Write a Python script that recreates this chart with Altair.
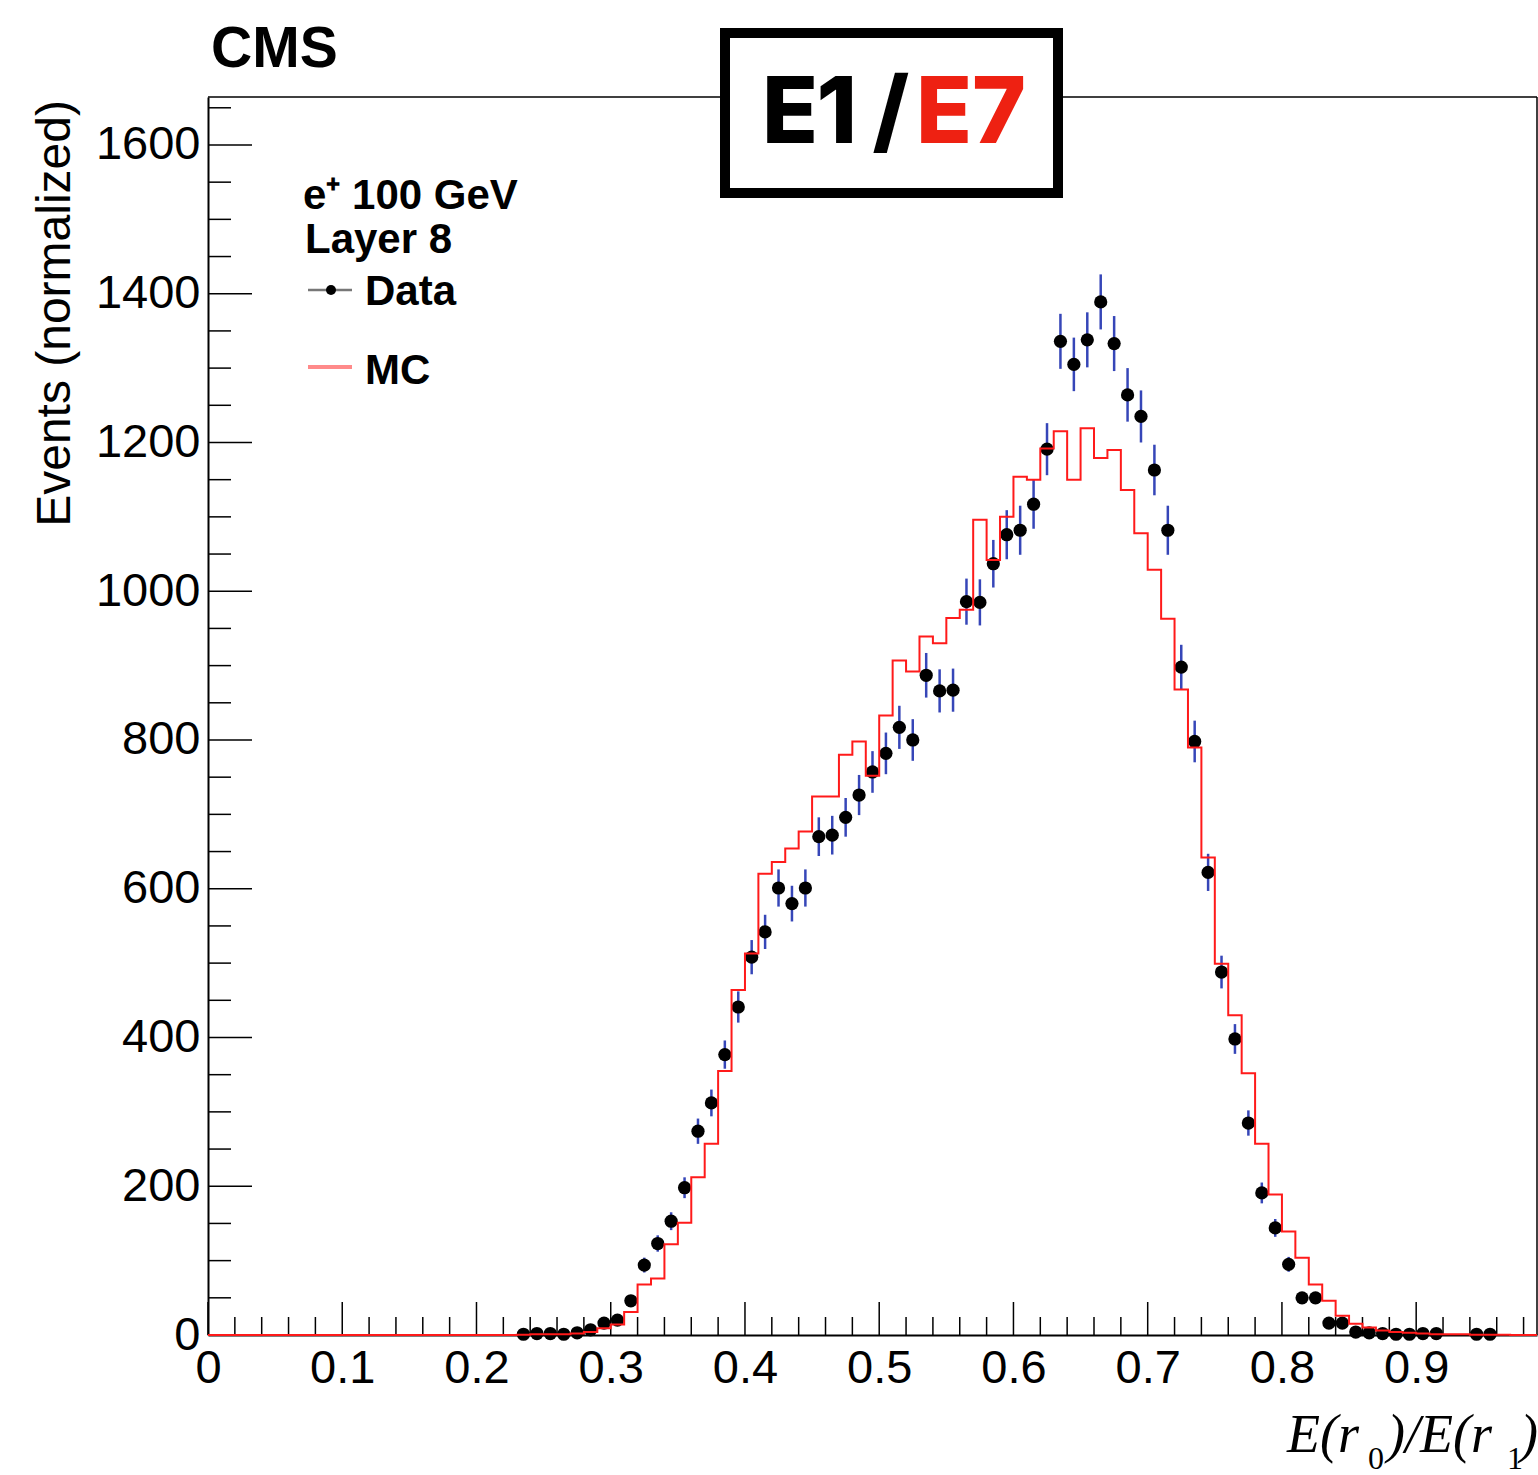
import altair as alt
import pandas as pd

# ---------------- data ----------------
# MC histogram: bins of width 0.01 starting at 0.00 (99 bins, 0.00 .. 0.99)
mc_values = [0, 0, 0, 0, 0, 0, 0, 0, 0, 0,
             0, 0, 0, 0, 0, 0, 0, 0, 0, 0,
             0, 0, 0, 0.5, 1, 1, 1, 2, 4, 9,
             14, 31, 68, 76, 122, 151, 212, 257, 355, 464,
             513, 620, 636, 654, 677, 724, 724, 780, 798, 752,
             833, 907, 892, 939, 930, 964, 975, 1096, 1042, 1100,
             1154, 1150, 1192, 1215, 1150, 1219, 1179, 1190, 1136, 1078,
             1029, 963, 868, 790, 642, 499, 430, 352, 257, 189,
             139, 104, 68, 46, 26, 15, 10, 6, 4, 3,
             2, 1, 1, 1, 0.5, 0.5, 0.5, 0, 0]

# Data points: bin centres, values and error bar half-lengths
data_centers = [0.235, 0.245, 0.255, 0.265, 0.275, 0.285, 0.295, 0.305, 0.315, 0.325,
                0.335, 0.345, 0.355, 0.365, 0.375, 0.385, 0.395, 0.405, 0.415, 0.425,
                0.435, 0.445, 0.455, 0.465, 0.475, 0.485, 0.495, 0.505, 0.515, 0.525,
                0.535, 0.545, 0.555, 0.565, 0.575, 0.585, 0.595, 0.605, 0.615, 0.625,
                0.635, 0.645, 0.655, 0.665, 0.675, 0.685, 0.695, 0.705, 0.715, 0.725,
                0.735, 0.745, 0.755, 0.765, 0.775, 0.785, 0.795, 0.805, 0.815, 0.825,
                0.835, 0.845, 0.855, 0.865, 0.875, 0.885, 0.895, 0.905, 0.915,
                0.945, 0.955]
data_values = [1, 2, 2, 1, 3, 7, 16, 20, 46, 94,
               123, 153, 198, 274, 312, 377, 441, 508, 542, 601,
               580, 601, 670, 672, 696, 726, 757, 782, 817, 800,
               887, 866, 867, 986, 985, 1037, 1076, 1082, 1117, 1191,
               1336, 1305, 1338, 1389, 1333, 1264, 1235, 1163, 1082, 898,
               798, 622, 488, 398, 285, 191, 144, 95, 50, 50,
               16, 16, 4, 3, 2, 1, 1, 2, 2,
               1, 1]
data_errors = [1, 1.4, 1.4, 1, 1.7, 2.6, 4, 4.5, 7, 10,
               11, 12, 14, 17, 18, 19, 21, 23, 23, 25,
               24, 25, 26, 26, 26, 27, 28, 28, 29, 28,
               30, 29, 29, 31, 31, 32, 33, 33, 33, 35,
               37, 36, 37, 37, 37, 36, 35, 34, 33, 30,
               28, 25, 22, 20, 17, 14, 12, 10, 7, 7,
               4, 4, 2, 2, 1.4, 1, 1, 1.4, 1.4,
               1, 1]

x_tick_labels = [0.0, 0.1, 0.2, 0.3, 0.4, 0.5, 0.6, 0.7, 0.8, 0.9]
y_tick_labels = [0, 200, 400, 600, 800, 1000, 1200, 1400, 1600]

# ---------------- layout ----------------
W, H = 1329, 1238
XMAX, YMAX = 0.99, 1664.5
BIN_W = 0.01

xs = alt.Scale(domain=[0, XMAX], nice=False, zero=False)
ys = alt.Scale(domain=[0, YMAX], nice=False, zero=False)

edges = [round(i * BIN_W, 2) for i in range(len(mc_values) + 1)]
mc_df = pd.DataFrame({"x": edges, "v": mc_values + [mc_values[-1]]})

pts_df = pd.DataFrame({"x": data_centers, "v": data_values, "e": data_errors})
pts_df["lo"] = pts_df["v"] - pts_df["e"]
pts_df["hi"] = pts_df["v"] + pts_df["e"]

# axis tick positions (inward ROOT-style ticks drawn as rules)
x_major = x_tick_labels
x_minor = [round(i * 0.02, 2) for i in range(1, 50) if i % 5 != 0]
y_major = y_tick_labels
y_minor = [i * 50 for i in range(1, 34) if i % 4 != 0]

FONT = "Liberation Sans"

xaxis = alt.Axis(values=x_tick_labels, ticks=False, grid=False, title=None,
                 labelExpr="datum.value == 0 ? '0' : format(datum.value, '.1f')",
                 labelFont=FONT, labelFontSize=47, labelColor="black",
                 labelPadding=10, labelFlush=False, labelOverlap=False,
                 domainColor="black", domainWidth=2)
yaxis = alt.Axis(values=y_tick_labels, ticks=False, grid=False, title=None,
                 format="d", labelFont=FONT, labelFontSize=47, labelColor="black",
                 labelPadding=8, labelFlush=False, labelOverlap=False,
                 domainColor="black", domainWidth=2)


def X(field):
    return alt.X(field, type="quantitative", scale=xs, axis=xaxis)


def Y(field):
    return alt.Y(field, type="quantitative", scale=ys, axis=yaxis)


errbars = alt.Chart(pts_df).mark_rule(color="#3646b8", strokeWidth=2.5).encode(
    x=X("x"), y=Y("lo"), y2="hi")
dots = alt.Chart(pts_df).mark_circle(size=175, color="black", opacity=1).encode(
    x=X("x"), y=Y("v"))
mc = alt.Chart(mc_df).mark_line(interpolate="step-after", color="#ff1a1a",
                                strokeWidth=2).encode(x=X("x"), y=Y("v"))


def xticks(vals, length):
    return alt.Chart(pd.DataFrame({"t": vals})).mark_rule(
        color="black", strokeWidth=1.5).encode(
        x=X("t"), y=alt.value(H), y2=alt.value(H - length))


def yticks(vals, length):
    return alt.Chart(pd.DataFrame({"t": vals})).mark_rule(
        color="black", strokeWidth=1.5).encode(
        y=Y("t"), x=alt.value(0), x2=alt.value(length))


one = pd.DataFrame({"a": [0]})


def txt(text, x, y, size, weight="normal", font=FONT, color="black",
        align="left", style="normal", angle=0):
    kw = dict(text=text, font=font, fontSize=size, fontWeight=weight,
              color=color, align=align, baseline="alphabetic", fontStyle=style)
    if angle:
        kw["angle"] = angle
    return alt.Chart(one).mark_text(**kw).encode(x=alt.value(x), y=alt.value(y))


def seg(x1, x2, y1, y2, color, width):
    return alt.Chart(one).mark_rule(color=color, strokeWidth=width).encode(
        x=alt.value(x1), x2=alt.value(x2), y=alt.value(y1), y2=alt.value(y2))


frame_top = seg(0, W, 0, 0, "black", 1.5)
frame_right = seg(W, W, 0, H, "black", 1.5)

# legend / labels
legend = [
    txt("CMS", 3, -30, 57, "bold"),
    txt("e\u207a 100 GeV", 95, 112, 42, "bold"),
    txt("Layer 8", 97, 156, 42, "bold"),
    seg(100, 144, 193, 193, "#777777", 2.5),
    alt.Chart(one).mark_circle(size=100, color="black", opacity=1).encode(
        x=alt.value(123), y=alt.value(193)),
    txt("Data", 157, 208, 42, "bold"),
    seg(100, 144, 270, 270, "#ff8a8a", 4),
    txt("MC", 157, 287, 42, "bold"),
]

# E1/E7 box
box = alt.Chart(one).mark_rect(fill="white", stroke="black", strokeWidth=10).encode(
    x=alt.value(517), x2=alt.value(850), y=alt.value(-64), y2=alt.value(96))
box_text = [
    txt("E", 554, 46, 92, 800, font="Inter"),
    txt("1", 649, 46, 92, 800, font="Inter", align="right"),
    txt("/", 683, 46, 92, 800, font="Inter", align="center"),
    txt("E7", 708, 46, 92, 800, font="Inter", color="#ee2112"),
]

# axis titles
ytitle = txt("Events (normalized)", -138, 3, 48, align="right", angle=270)
SERIF = "Liberation Serif"
xtitle = [
    txt("E(r", 1079, 1355, 54, font=SERIF, style="italic"),
    txt("0", 1160, 1372, 32, font=SERIF),
    txt(")/E(r", 1179, 1355, 54, font=SERIF, style="italic"),
    txt("1", 1299, 1372, 32, font=SERIF),
    txt(")", 1312, 1355, 54, font=SERIF, style="italic"),
]

chart = alt.layer(
    xticks(x_major, 33), xticks(x_minor, 18),
    yticks(y_major, 44), yticks(y_minor, 23),
    frame_top, frame_right,
    errbars, dots, mc,
    *legend, box, *box_text, ytitle, *xtitle,
).properties(
    width=W, height=H,
    autosize=alt.AutoSizeParams(type="none"),
    padding={"left": 208, "top": 97, "right": 1, "bottom": 140},
    background="white",
).configure_view(strokeWidth=0)

chart.save("out.html", embed_options={"renderer": "svg", "actions": False})
